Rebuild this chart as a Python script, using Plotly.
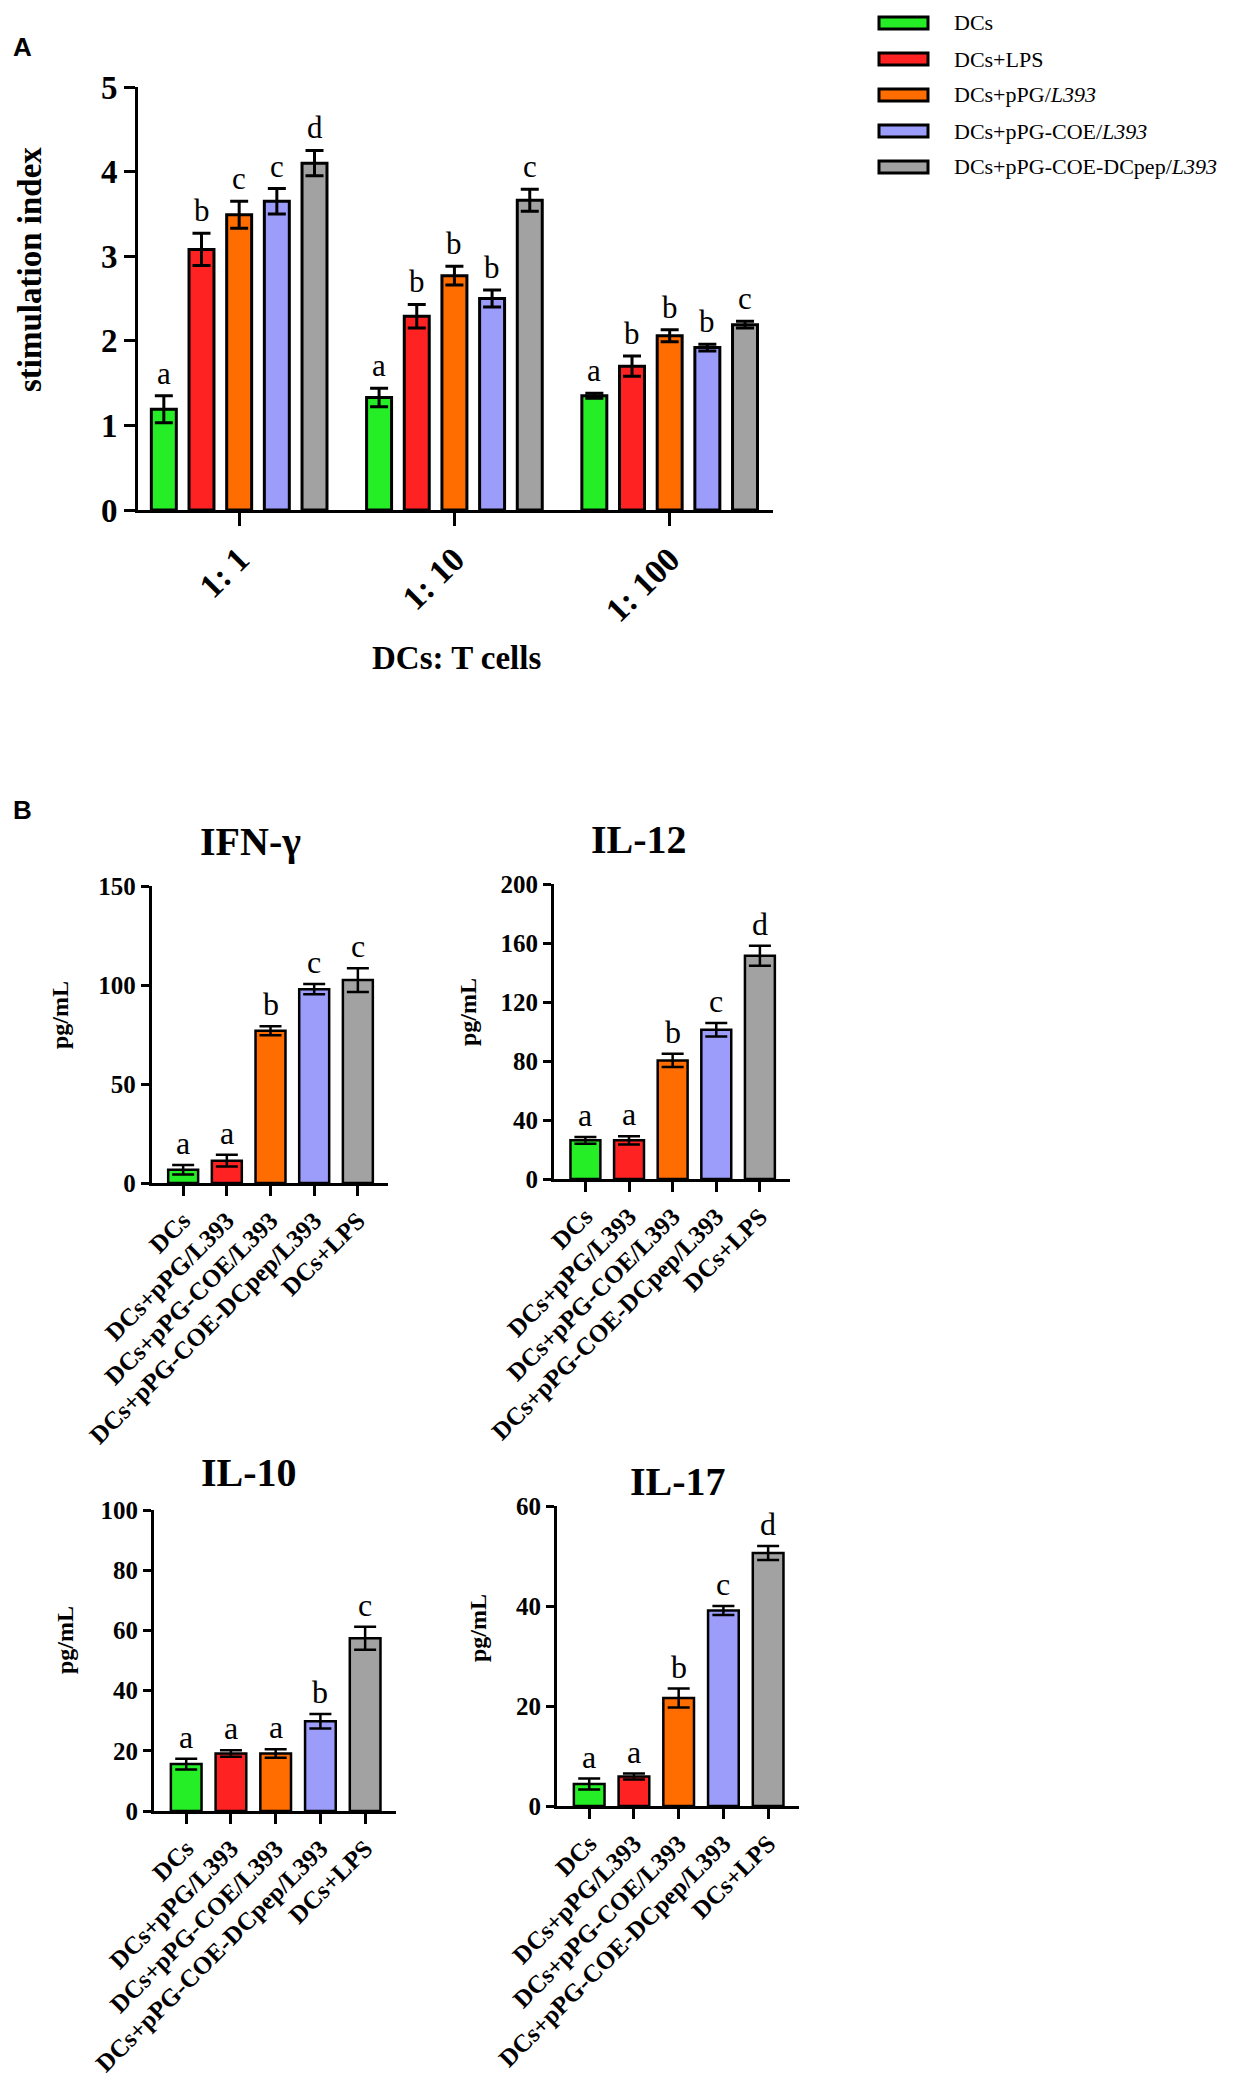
import plotly.graph_objects as go

# page body has an 8px margin, so the figure is drawn 16px smaller and shifted
W, H = 1221, 2069
PAD = 8

# ---- panel A data: stimulation index ----
ratios = ["1: 1", "1: 10", "1: 100"]
groups_a = ["DCs", "DCs+LPS", "DCs+pPG/<i>L393</i>", "DCs+pPG-COE/<i>L393</i>",
            "DCs+pPG-COE-DCpep/<i>L393</i>"]
si_dcs = [1.19, 1.33, 1.35]
si_lps = [3.08, 2.29, 1.70]
si_ppg = [3.49, 2.77, 2.06]
si_coe = [3.65, 2.50, 1.92]
si_pep = [4.10, 3.66, 2.19]
err_dcs = [0.16, 0.11, 0.03]
err_lps = [0.19, 0.14, 0.12]
err_ppg = [0.16, 0.11, 0.07]
err_coe = [0.15, 0.10, 0.04]
err_pep = [0.15, 0.13, 0.04]
let_dcs = ["a", "a", "a"]
let_lps = ["b", "b", "b"]
let_ppg = ["c", "b", "b"]
let_coe = ["c", "b", "b"]
let_pep = ["d", "c", "c"]

# ---- panel B data: cytokines (pg/mL) ----
groups_b = ["DCs", "DCs+pPG/L393", "DCs+pPG-COE/L393", "DCs+pPG-COE-DCpep/L393", "DCs+LPS"]
ifn = [6.7, 11.3, 76.9, 97.9, 102.5]
ifn_err = [2.4, 3.0, 2.3, 2.6, 6.0]
ifn_let = ["a", "a", "b", "c", "c"]
il12 = [26.2, 26.2, 80.4, 101.2, 151.4]
il12_err = [2.3, 2.8, 4.5, 4.6, 6.8]
il12_let = ["a", "a", "b", "c", "d"]
il10 = [15.6, 19.1, 19.1, 29.8, 57.4]
il10_err = [1.8, 1.1, 1.4, 2.4, 3.8]
il10_let = ["a", "a", "a", "b", "c"]
il17 = [4.4, 5.9, 21.6, 39.1, 50.6]
il17_err = [1.1, 0.6, 1.9, 0.9, 1.4]
il17_let = ["a", "a", "b", "c", "d"]

colors = ["#26EE26", "#FF2222", "#FF6C00", "#9C9CFA", "#A2A2A2"]
SERIF = "Liberation Serif"


def px_x(p):
    return (p - PAD) / W


def px_y(p):
    return 1 - (p - PAD) / H


def label(x, y, text, size, bold=True, family=SERIF, angle=0, xanchor="center"):
    # free text placed in page pixels
    return dict(x=px_x(x), y=px_y(y), xref="paper", yref="paper", text=text,
                textangle=angle, showarrow=False, xanchor=xanchor, yanchor="middle",
                font=dict(family=family, size=size, color="black",
                          weight="bold" if bold else "normal"))


fig = go.Figure()
annotations = []
shapes = []

# ---------------- panel A ----------------
series_a = [(si_dcs, err_dcs, let_dcs), (si_lps, err_lps, let_lps), (si_ppg, err_ppg, let_ppg),
            (si_coe, err_coe, let_coe), (si_pep, err_pep, let_pep)]
step = 0.175
bw = 0.116
for i, (vals, errs, lets) in enumerate(series_a):
    off = (i - 2) * step
    fig.add_trace(go.Bar(
        x=ratios, y=vals, name=groups_a[i], width=bw, offset=off - bw / 2,
        marker=dict(color=colors[i], line=dict(color="black", width=3)),
        error_y=dict(type="data", array=errs, color="black", thickness=3, width=9),
        xaxis="x", yaxis="y", showlegend=False))
    for g, (v, e, l) in enumerate(zip(vals, errs, lets)):
        annotations.append(dict(x=g + off, y=v + e, xref="x", yref="y", text=l,
                                showarrow=False, xanchor="center", yanchor="bottom", yshift=3,
                                font=dict(family=SERIF, size=31, color="black")))

axis_line = dict(showline=True, linecolor="black", linewidth=3, ticks="outside",
                 tickcolor="black", tickwidth=3, showgrid=False, zeroline=False,
                 automargin=False)

fig.update_layout(
    xaxis=dict(domain=[px_x(138), px_x(773)], anchor="y", range=[-0.47, 2.48],
               type="category", tickangle=-45, ticklen=13,
               tickfont=dict(family=SERIF, size=34, color="black", weight="bold"), **axis_line),
    yaxis=dict(domain=[px_y(510), px_y(87)], anchor="x", range=[0, 5], dtick=1, ticklen=11,
               tickfont=dict(family=SERIF, size=33, color="black", weight="bold"), **axis_line),
)

annotations.append(label(30, 270, "stimulation index", 33, angle=-90))
annotations.append(label(456, 658, "DCs: T cells", 33))
annotations.append(label(22, 47, "A", 26, family="Liberation Sans"))
annotations.append(label(23, 810, "B", 26, family="Liberation Sans"))

# legend drawn at top right
leg_rows = [23, 59, 95, 131, 167]
for i, name in enumerate(groups_a):
    yc = leg_rows[i]
    shapes.append(dict(type="rect", xref="paper", yref="paper",
                       x0=px_x(879), x1=px_x(928), y0=px_y(yc + 6), y1=px_y(yc - 6),
                       fillcolor=colors[i], line=dict(color="black", width=3)))
    annotations.append(label(952, yc, name, 22, bold=False, xanchor="left"))

# ---------------- panel B ----------------
panels = [
    ("IFN-γ", ifn, ifn_err, ifn_let, 150, 50, (151.7, 388), (1183, 886), (250, 841), (60, 1015)),
    ("IL-12", il12, il12_err, il12_let, 200, 40, (554, 790), (1179, 884), (639, 840), (468, 1012)),
    ("IL-10", il10, il10_err, il10_let, 100, 20, (154, 396), (1811, 1510), (249, 1472), (65, 1640)),
    ("IL-17", il17, il17_err, il17_let, 60, 20, (557, 799), (1806, 1506), (678, 1481), (478, 1628)),
]

for k, (title, vals, errs, lets, ymax, dt, xd, yd, tpos, lpos) in enumerate(panels):
    n = k + 2
    xa, ya = "x%d" % n, "y%d" % n
    fig.add_trace(go.Bar(
        x=groups_b, y=vals, width=0.686,
        marker=dict(color=colors, line=dict(color="black", width=2.5)),
        error_y=dict(type="data", array=errs, color="black", thickness=2.5, width=11),
        xaxis=xa, yaxis=ya, showlegend=False))
    fig.layout["xaxis%d" % n] = dict(
        domain=[px_x(xd[0]), px_x(xd[1])], anchor=ya, range=[-0.72, 4.69], type="category",
        tickangle=-45, ticklen=10,
        tickfont=dict(family=SERIF, size=25, color="black", weight="bold"), **axis_line)
    fig.layout["yaxis%d" % n] = dict(
        domain=[px_y(yd[0]), px_y(yd[1])], anchor=xa, range=[0, ymax], dtick=dt, ticklen=8,
        tickfont=dict(family=SERIF, size=25, color="black", weight="bold"), **axis_line)
    for j, (v, e, l) in enumerate(zip(vals, errs, lets)):
        annotations.append(dict(x=j, y=v + e, xref=xa, yref=ya, text=l, showarrow=False,
                                xanchor="center", yanchor="bottom", yshift=2,
                                font=dict(family=SERIF, size=32, color="black")))
    annotations.append(label(tpos[0], tpos[1], title, 40))
    annotations.append(label(lpos[0], lpos[1], "pg/mL", 24, angle=-90))

fig.update_layout(
    template="none",
    width=W, height=H, margin=dict(l=0, r=0, t=0, b=0, autoexpand=False),
    paper_bgcolor="white", plot_bgcolor="white",
    bargap=0.314, annotations=annotations, shapes=shapes, showlegend=False,
)

fig.write_html("out.html")
